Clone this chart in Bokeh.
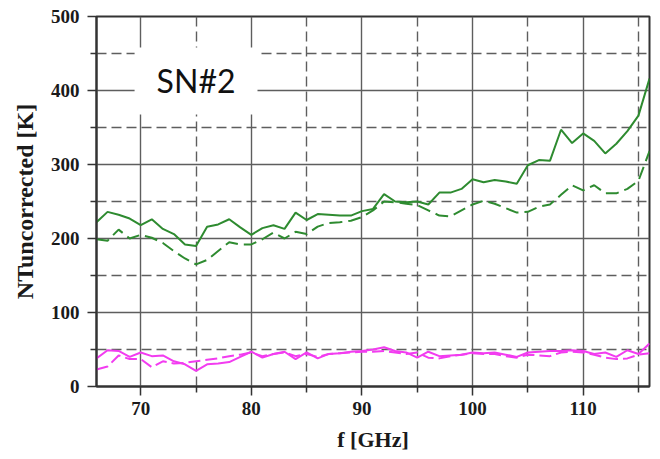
from bokeh.plotting import figure
from bokeh.models import Range1d, FixedTicker, Grid, Label
from bokeh.embed import file_html
from bokeh.resources import INLINE

# Frequency sweep (GHz), 1 GHz steps
freq = list(range(66, 117))

# Uncorrected noise temperature [K], two receivers per polarisation
green_solid = [222, 236, 232, 227, 218, 226, 213, 206, 192, 190,
               216, 219, 226, 215, 205, 214, 218, 213, 235, 225,
               233, 232, 231, 231, 237, 240, 260, 250, 249, 250,
               246, 262, 262, 267, 280, 276, 279, 277, 274, 299,
               306, 305, 347, 329, 342, 332, 315, 328, 345, 366, 416]
green_dashed = [199, 197, 212, 200, 205, 201, 194, 183, 173, 165,
                171, 183, 195, 192, 192, 199, 208, 200, 209, 206,
                216, 221, 222, 224, 229, 238, 250, 249, 247, 245,
                238, 231, 230, 238, 246, 251, 247, 241, 235, 236,
                243, 246, 259, 272, 265, 272, 261, 261, 267, 278, 318]
magenta_solid = [38, 49, 48, 40, 46, 41, 42, 34, 30, 21,
                 30, 31, 33, 40, 47, 39, 44, 47, 37, 46,
                 38, 44, 45, 47, 48, 50, 53, 48, 46, 39,
                 47, 41, 42, 43, 46, 45, 46, 43, 40, 46,
                 47, 48, 48, 49, 48, 44, 46, 40, 49, 44, 58]
magenta_dashed = [23, 27, 42, 37, 37, 26, 34, 31, 32, 34,
                  36, 38, 41, 43, 46, 41, 44, 46, 41, 44,
                  40, 44, 45, 46, 47, 47, 48, 46, 44, 46,
                  39, 38, 41, 43, 45, 44, 44, 41, 39, 43,
                  42, 41, 46, 47, 46, 43, 39, 37, 38, 43, 45]

x_major = [70, 80, 90, 100, 110]
x_minor = [75, 85, 95, 105, 115]
y_major = [0, 100, 200, 300, 400, 500]
y_minor = [50, 150, 250, 350, 450]

GREEN = "#2e8b30"
MAGENTA = "#f23cf0"
GRID = "#5e5e5e"
AXIS = "#333333"
SERIF = "Liberation Serif"

p = figure(width=660, height=459, output_backend="svg", toolbar_location=None,
           x_range=Range1d(66, 116), y_range=Range1d(0, 500),
           min_border_left=96, min_border_right=11,
           min_border_top=16, min_border_bottom=73)
p.background_fill_color = "white"
p.border_fill_color = "white"
p.outline_line_color = AXIS
p.outline_line_width = 2

# Solid grid at major ticks, dashed grid halfway between
p.xgrid.ticker = FixedTicker(ticks=x_major)
p.ygrid.ticker = FixedTicker(ticks=y_major)
for g in (p.xgrid, p.ygrid):
    g.grid_line_color = GRID
    g.grid_line_width = 1.4
p.add_layout(Grid(dimension=0, ticker=FixedTicker(ticks=x_minor),
                  grid_line_color=GRID, grid_line_width=1.4,
                  grid_line_dash="10 5"))
p.add_layout(Grid(dimension=1, ticker=FixedTicker(ticks=y_minor),
                  grid_line_color=GRID, grid_line_width=1.4,
                  grid_line_dash="10 5"))

p.xaxis.ticker = FixedTicker(ticks=x_major, minor_ticks=x_minor)
p.yaxis.ticker = FixedTicker(ticks=y_major, minor_ticks=y_minor)

for ax in (p.xaxis, p.yaxis):
    ax.axis_line_color = AXIS
    ax.axis_line_width = 2
    ax.major_tick_line_color = AXIS
    ax.major_tick_line_width = 1.5
    ax.minor_tick_line_color = AXIS
    ax.minor_tick_line_width = 1.5
    ax.major_tick_in = 0
    ax.major_tick_out = 9
    ax.minor_tick_in = 0
    ax.minor_tick_out = 6
    ax.major_label_text_font = SERIF
    ax.major_label_text_font_style = "bold"
    ax.major_label_text_font_size = "19px"
    ax.major_label_text_color = "#1a1a1a"
    ax.axis_label_text_font = SERIF
    ax.axis_label_text_font_style = "bold"
    ax.axis_label_text_color = "#1a1a1a"

p.xaxis.axis_label = "f [GHz]"
p.xaxis.axis_label_text_font_size = "22px"
p.xaxis.major_label_standoff = 6
p.xaxis.axis_label_standoff = 9

p.yaxis.axis_label = "NTuncorrected [K]"
p.yaxis.axis_label_text_font_size = "24px"
p.yaxis.major_label_standoff = 8
p.yaxis.axis_label_standoff = 10

p.line(freq, green_solid, line_color=GREEN, line_width=2)
p.line(freq, green_dashed, line_color=GREEN, line_width=2, line_dash="13 6")
p.line(freq, magenta_solid, line_color=MAGENTA, line_width=2)
p.line(freq, magenta_dashed, line_color=MAGENTA, line_width=2, line_dash="12 5")

p.add_layout(Label(x=75, y=413, text="SN#2", text_align="center",
                   text_baseline="middle", text_font="Lato",
                   text_font_size="32px", text_color="#111111",
                   background_fill_color="white",
                   padding=dict(left=22, right=22, top=14, bottom=14)))

open("out.html", "w").write(file_html(p, INLINE))
